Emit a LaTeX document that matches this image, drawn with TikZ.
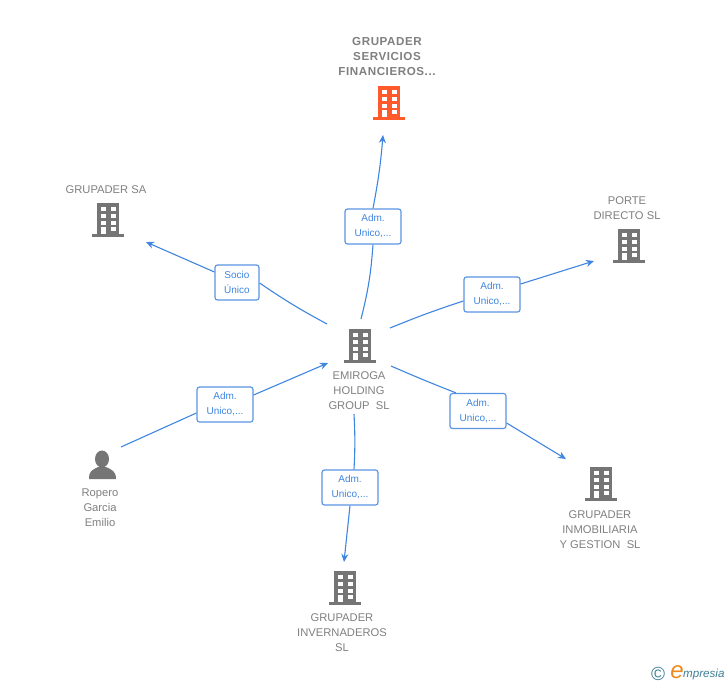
\documentclass[tikz,border=0pt]{standalone}
\usepackage{fontspec}
\usetikzlibrary{arrows.meta}
\setmainfont{Liberation Sans}
\definecolor{linkblue}{HTML}{3F86E0}
\definecolor{boxblue}{HTML}{5B96E4}
\definecolor{icongray}{HTML}{757575}
\definecolor{textgray}{HTML}{808080}
\definecolor{iconred}{HTML}{FF5A2C}
\definecolor{markblue}{HTML}{3E7F96}
\definecolor{markorange}{HTML}{F08A1D}
\newcommand{\buildingicon}[2]{% centre, colour
  \begin{scope}[shift={(#1)}]
    \fill[#2] (-11,-17) rectangle (11,14);
    \fill[#2] (-16,14) rectangle (16,17);
    \foreach \col in {-7,3} {
      \foreach \row in {-13,-6,1} {
        \fill[white] (\col,\row) rectangle ++(5,4);
      }
    }
    \fill[white] (-7,7) rectangle (-2,14);
    \fill[white] (3,7) rectangle (8,11);
  \end{scope}
}
\begin{document}
\begin{tikzpicture}[x=1pt,y=-1pt,>={Stealth[length=8pt,width=7pt]},
    role/.style = {draw=boxblue, fill=white, rounded corners=2.5pt, line width=1.2pt, text=linkblue,
      font=\fontsize{10}{15}\selectfont, align=center, minimum width=#1, minimum height=35pt, inner sep=0pt},
    role/.default = 56pt,
    link/.style = {draw=linkblue, line width=1.1pt},
    caption/.style = {text=textgray, font=\fontsize{11.2}{15}\selectfont, align=center, inner sep=0pt},
    boldcaption/.style = {caption, font=\fontsize{11.6}{15}\selectfont\bfseries\addfontfeatures{LetterSpace=5}},
    icon/.style = {minimum width=32pt, minimum height=33pt, inner sep=0pt}]
  \useasboundingbox (0,0) rectangle (728,685);
  \fill[white] (0,0) rectangle (728,685);
  % companies
  \node[icon] (emiroga) at (360,346) {};
  \node[icon] (servicios) at (389,103) {};
  \node[icon] (grupadersa) at (108,220) {};
  \node[icon] (porte) at (629,246) {};
  \node[icon] (inmobiliaria) at (601,484) {};
  \node[icon] (invernaderos) at (345,588) {};
  \node[icon] (ropero) at (102,465) {};
  \buildingicon{emiroga}{icongray}
  \buildingicon{servicios}{iconred}
  \buildingicon{grupadersa}{icongray}
  \buildingicon{porte}{icongray}
  \buildingicon{inmobiliaria}{icongray}
  \buildingicon{invernaderos}{icongray}
  \fill[icongray] (102,459) ellipse (7pt and 8.5pt);
  \fill[icongray] (89,479) .. controls (89,471) and (92,470) .. (98,467)
    -- (106,467) .. controls (112,470) and (116,471) .. (116,479) -- cycle;
  % labels
  \node[boldcaption] (servicioslabel) at (387,57) {GRUPADER\\SERVICIOS\\FINANCIEROS...};
  \node[caption] (grupadersalabel) at (106,189.5) {GRUPADER SA};
  \node[caption] (portelabel) at (627,208) {PORTE\\DIRECTO SL};
  \node[caption] (emirogalabel) at (359,390.5) {EMIROGA\\HOLDING\\GROUP\ \ SL};
  \node[caption] (inmobiliarialabel) at (600,529.5) {GRUPADER\\INMOBILIARIA\\Y GESTION\ \ SL};
  \node[caption] (invernaderoslabel) at (342,632.5) {GRUPADER\\INVERNADEROS\\SL};
  \node[caption] (roperolabel) at (100,508) {Ropero\\Garcia\\Emilio};
  % role boxes
  \node[role] (rolea) at (373,226.5) {Adm.\\Unico,...};
  \node[role=44pt] (roleb) at (237,282.5) {Socio\\Único};
  \node[role] (rolec) at (492,294.5) {Adm.\\Unico,...};
  \node[role] (roled) at (478,411) {Adm.\\Unico,...};
  \node[role] (rolee) at (350,487.5) {Adm.\\Unico,...};
  \node[role] (rolef) at (225,404.5) {Adm.\\Unico,...};
  % free ends
  \coordinate (a0) at (361,319);
  \coordinate (a1) at (383,135);
  \coordinate (b0) at (327,324);
  \coordinate (b1) at (146,242);
  \coordinate (c0) at (390,328);
  \coordinate (c1) at (594,261);
  \coordinate (d0) at (391,366);
  \coordinate (d1) at (566,459);
  \coordinate (e0) at (354,414);
  \coordinate (e1) at (344,562);
  \coordinate (f0) at (121,447);
  \coordinate (f1) at (328,363);
  % connectors
  \draw[link] (a0) to[bend right=5] (rolea.south);
  \draw[link,->] (rolea.north) to[bend right=3] (a1);
  \draw[link] (b0) to[bend left=3] (roleb.east |- 0,283);
  \draw[link,->] (roleb.west |- 0,272) -- (b1);
  \draw[link] (c0) to[bend left=2] (rolec.west |- 0,301);
  \draw[link,->] (rolec.east |- 0,284) -- (c1);
  \draw[link] (d0) to[bend right=1] (roled.north -| 456,0);
  \draw[link,->] (roled.east |- 0,423) -- (d1);
  \draw[link] (e0) to[bend left=3] (rolee.north -| 354,0);
  \draw[link,->] (rolee.south) -- (e1);
  \draw[link] (f0) -- (rolef.west |- 0,413);
  \draw[link,->] (rolef.east |- 0,395) -- (f1);
  % logo
  \node[text=markblue, font=\fontsize{19}{19}\selectfont, inner sep=0pt] (copyright) at (658,674) {©};
  \node[text=markorange, font=\fontsize{24}{24}\selectfont\itshape, inner sep=0pt] (logoe) at (677,672) {e};
  \node[text=markblue, font=\fontsize{11.6}{12}\selectfont\itshape, inner sep=0pt, anchor=west] (logotext) at (683,674) {mpresia};
\end{tikzpicture}
\end{document}
